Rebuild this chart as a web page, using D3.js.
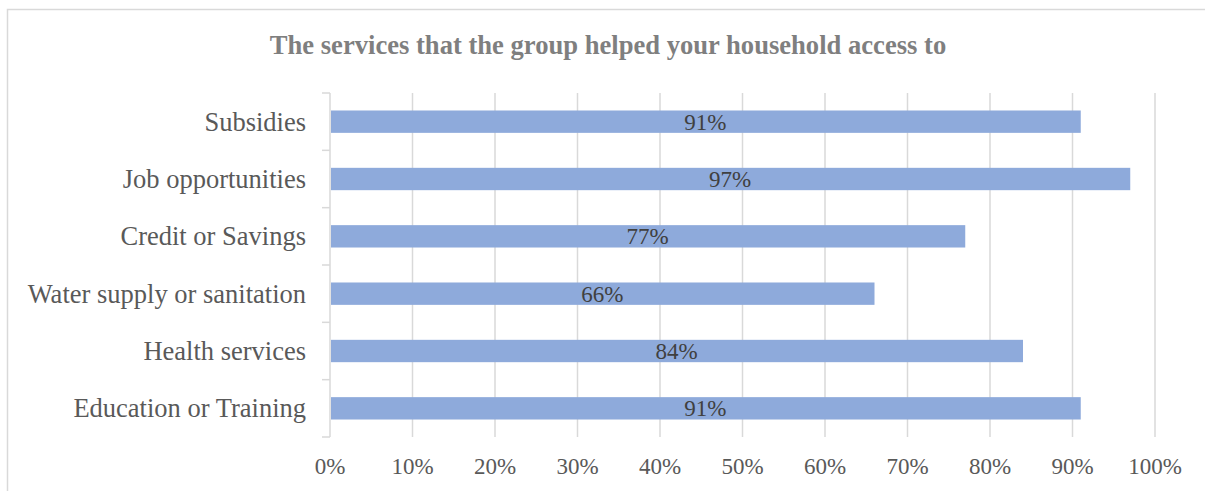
<!DOCTYPE html>
<html>
<head>
<meta charset="utf-8">
<script src="https://cdn.jsdelivr.net/npm/d3@7"></script>
<style>
  body { margin: 0; background: #fff; }
  svg text { font-family: "Liberation Serif", "Times New Roman", serif; }
</style>
</head>
<body>
<div id="adiv"></div>
<script>
// chart values
var categories = ["Subsidies", "Job opportunities", "Credit or Savings",
                  "Water supply or sanitation", "Health services", "Education or Training"];
var values = [0.91, 0.97, 0.77, 0.66, 0.84, 0.91];
var tickValues = [0, 0.1, 0.2, 0.3, 0.4, 0.5, 0.6, 0.7, 0.8, 0.9, 1.0];
var title = "The services that the group helped your household access to";

var W = 1205, H = 491;
var margin = {top: 93, left: 330, right: 50, bottom: 54};
var plotBottom = 437;

var svg = d3.select("#adiv").append("svg")
    .attr("width", W)
    .attr("height", H);

// outer chart frame
svg.append("rect")
    .attr("x", 7.5).attr("y", 9.5)
    .attr("width", W + 10).attr("height", H + 10)
    .attr("fill", "none")
    .attr("stroke", "#d9d9d9")
    .attr("stroke-width", 1.5);

svg.append("text")
    .attr("x", 608).attr("y", 54)
    .attr("text-anchor", "middle")
    .attr("font-size", "26.6px")
    .attr("font-weight", "bold")
    .attr("fill", "#7f7f7f")
    .text(title);

var x = d3.scaleLinear()
    .domain([0, 1])
    .range([margin.left, 1155]);

var y = d3.scaleBand()
    .domain(categories)
    .range([margin.top, plotBottom])
    .paddingInner(0.61)
    .paddingOuter(0.305);

// gridlines
svg.append("g")
    .selectAll("line")
    .data(tickValues.slice(1))
    .join("line")
      .attr("x1", d => x(d)).attr("x2", d => x(d))
      .attr("y1", margin.top).attr("y2", plotBottom)
      .attr("stroke", "#d9d9d9")
      .attr("stroke-width", 1.5);

// x axis labels
svg.append("g")
    .selectAll("text")
    .data(tickValues)
    .join("text")
      .attr("x", d => x(d))
      .attr("y", 474)
      .attr("text-anchor", "middle")
      .attr("font-size", "23px")
      .attr("fill", "#595959")
      .text(d => d3.format(".0%")(d));

// y axis line with band-boundary ticks
var yAxis = svg.append("g");
yAxis.append("line")
    .attr("x1", x(0)).attr("x2", x(0))
    .attr("y1", margin.top).attr("y2", plotBottom)
    .attr("stroke", "#d9d9d9").attr("stroke-width", 1.5);

var bounds = d3.range(categories.length + 1).map(i => margin.top + i * y.step());
yAxis.selectAll("line.tk")
    .data(bounds)
    .join("line")
      .attr("class", "tk")
      .attr("x1", x(0) - 8).attr("x2", x(0))
      .attr("y1", d => d).attr("y2", d => d)
      .attr("stroke", "#d9d9d9").attr("stroke-width", 1.5);

yAxis.selectAll("text")
    .data(categories)
    .join("text")
      .attr("x", 306)
      .attr("y", d => y(d) + y.bandwidth() / 2 + 9)
      .attr("text-anchor", "end")
      .attr("font-size", "26.5px")
      .attr("fill", "#595959")
      .text(d => d);

// bars
svg.append("g")
    .selectAll("rect")
    .data(values)
    .join("rect")
      .attr("x", x(0) + 1)
      .attr("y", (d, i) => y(categories[i]))
      .attr("width", d => x(d) - x(0) - 1)
      .attr("height", y.bandwidth())
      .attr("fill", "#8eaadb");

// value labels centered in bars
svg.append("g")
    .selectAll("text")
    .data(values)
    .join("text")
      .attr("x", d => (x(0) + x(d)) / 2)
      .attr("y", (d, i) => y(categories[i]) + y.bandwidth() / 2 + 8)
      .attr("text-anchor", "middle")
      .attr("font-size", "23px")
      .attr("fill", "#404040")
      .text(d => d3.format(".0%")(d));
</script>
</body>
</html>
